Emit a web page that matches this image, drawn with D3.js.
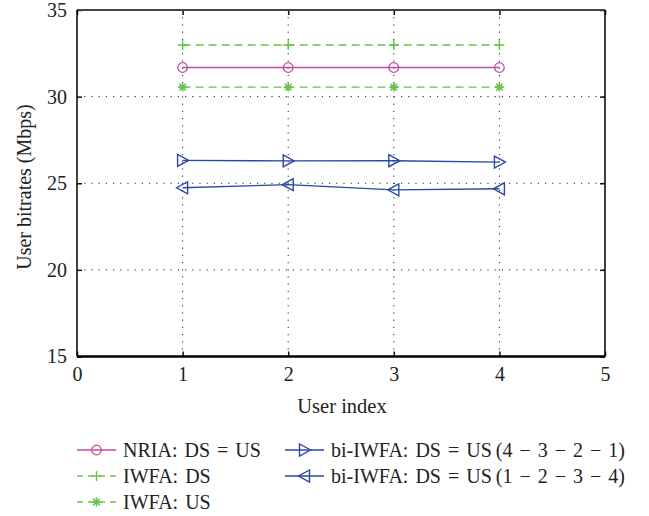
<!DOCTYPE html>
<html><head><meta charset="utf-8">
<script src="https://cdn.jsdelivr.net/npm/d3@7"></script>
<style>body{margin:0;background:#fff}svg{display:block}text{font-family:"Liberation Serif","DejaVu Serif",serif;fill:#222}</style>
</head><body><svg id="c" width="649" height="516"></svg>
<script>
const users = [1, 2, 3, 4];
const nria = [31.68, 31.68, 31.68, 31.68];
const iwfaDS = [32.98, 32.98, 32.98, 32.98];
const iwfaUS = [30.55, 30.55, 30.55, 30.55];
const bi4321 = [26.32, 26.29, 26.30, 26.22];
const bi1234 = [24.74, 24.92, 24.62, 24.68];
const xTicks = [0, 1, 2, 3, 4, 5];
const yTicks = [15, 20, 25, 30, 35];
const seriesNames = ["NRIA: DS = US", "IWFA: DS", "IWFA: US", "bi-IWFA: DS = US\u2009(4 \u2212 3 \u2212 2 \u2212 1)", "bi-IWFA: DS = US\u2009(1 \u2212 2 \u2212 3 \u2212 4)"];

const svg = d3.select("#c");
const L = 77, R = 605, T = 10, B = 356.5;
const x = d3.scaleLinear().domain([0, 5]).range([L, R]);
const y = d3.scaleLinear().domain([15, 35]).range([B, T]);
const FS = 20;

// grid
const g = svg.append("g");
g.selectAll(".gx").data(xTicks.slice(1, -1)).join("line")
  .attr("x1", d => x(d)).attr("x2", d => x(d)).attr("y1", T).attr("y2", B)
  .attr("stroke", "#222").attr("stroke-width", 1).attr("stroke-dasharray", "1.2,6");
g.selectAll(".gy").data(yTicks.slice(1, -1)).join("line")
  .attr("x1", L).attr("x2", R).attr("y1", d => y(d)).attr("y2", d => y(d))
  .attr("stroke", "#222").attr("stroke-width", 1).attr("stroke-dasharray", "1.2,6");

// axes
const ax = d3.axisBottom(x).tickValues(xTicks).tickSize(-5).tickPadding(10).tickFormat(d3.format("d"));
const ay = d3.axisLeft(y).tickValues(yTicks).tickSize(-5).tickPadding(10).tickFormat(d3.format("d"));
const axT = d3.axisTop(x).tickValues(xTicks).tickSize(-5).tickFormat("");
const ayR = d3.axisRight(y).tickValues(yTicks).tickSize(-5).tickFormat("");
function style(sel){ sel.select(".domain").remove(); sel.selectAll("line").attr("stroke","#111").attr("stroke-width",1.5); sel.selectAll("text").attr("font-size",FS).attr("fill","#222").attr("font-family","Liberation Serif, serif"); }
svg.append("g").attr("transform", `translate(0,${B})`).call(ax).call(style);
svg.append("g").attr("transform", `translate(${L},0)`).call(ay).call(style);
svg.append("g").attr("transform", `translate(0,${T})`).call(axT).call(style);
svg.append("g").attr("transform", `translate(${R},0)`).call(ayR).call(style);

// box
svg.append("line").attr("x1", L).attr("x2", R).attr("y1", T).attr("y2", T).attr("stroke", "#444").attr("stroke-width", 2);
svg.append("line").attr("x1", L).attr("x2", R).attr("y1", B).attr("y2", B).attr("stroke", "#000").attr("stroke-width", 2.5);
svg.append("line").attr("x1", L).attr("x2", L).attr("y1", T).attr("y2", B).attr("stroke", "#000").attr("stroke-width", 1.5);
svg.append("line").attr("x1", R).attr("x2", R).attr("y1", T).attr("y2", B).attr("stroke", "#000").attr("stroke-width", 1.5);

const magenta = "#c04aa8", green = "#66c24a", blue = "#2a48a0";
const line = d3.line().x((d, i) => x(users[i])).y(d => y(d));

function marker(sel, type, color) {
  if (type === "circle") {
    sel.append("circle").attr("r", 4.8).attr("fill", "none").attr("stroke", color).attr("stroke-width", 1.3);
  } else if (type === "plus") {
    sel.append("path").attr("d", "M-5,0H5M0,-5V5").attr("stroke", color).attr("stroke-width", 1.4);
  } else if (type === "star") {
    sel.append("path").attr("d", "M-4.5,0H4.5M0,-4.5V4.5M-3.3,-3.3L3.3,3.3M-3.3,3.3L3.3,-3.3").attr("stroke", color).attr("stroke-width", 1.6);
  } else if (type === "right") {
    sel.append("path").attr("d", "M-5,-6L6,0L-5,6Z").attr("fill", "none").attr("stroke", color).attr("stroke-width", 1.4);
  } else if (type === "left") {
    sel.append("path").attr("d", "M5,-6L-6,0L5,6Z").attr("fill", "none").attr("stroke", color).attr("stroke-width", 1.4);
  }
}

const series = [
  {v: nria, c: magenta, dash: null, m: "circle"},
  {v: iwfaDS, c: green, dash: "8,5", m: "plus"},
  {v: iwfaUS, c: green, dash: "8,5", m: "star"},
  {v: bi4321, c: blue, dash: null, m: "right"},
  {v: bi1234, c: blue, dash: null, m: "left"}
];
series.forEach(s => {
  svg.append("path").attr("d", line(s.v)).attr("fill", "none").attr("stroke", s.c).attr("stroke-width", 1.4)
    .attr("stroke-dasharray", s.dash);
  s.v.forEach((d, i) => {
    const gg = svg.append("g").attr("transform", `translate(${x(users[i])},${y(d)})`);
    marker(gg, s.m, s.c);
  });
});

// axis labels
svg.append("text").attr("x", 342).attr("y", 413).attr("text-anchor", "middle").attr("font-size", FS + 0.5).text("User index");
svg.append("text").attr("transform", `translate(31,187) rotate(-90)`).attr("text-anchor", "middle").attr("font-size", FS).text("User bitrates (Mbps)");

// legend
const legPos = [[77, 450], [77, 476], [77, 502], [285, 450], [285, 476]];
series.forEach((s, i) => {
  const [lx, ly] = legPos[i];
  svg.append("line").attr("x1", lx).attr("x2", lx + 39).attr("y1", ly).attr("y2", ly)
    .attr("stroke", s.c).attr("stroke-width", 1.4).attr("stroke-dasharray", s.dash ? "6,5" : null);
  const gg = svg.append("g").attr("transform", `translate(${lx + 19.5},${ly})`);
  marker(gg, s.m, s.c);
  svg.append("text").attr("x", lx + 46).attr("y", ly + 7).attr("font-size", FS).attr("word-spacing", 2).text(seriesNames[i]);
});
</script></body></html>
